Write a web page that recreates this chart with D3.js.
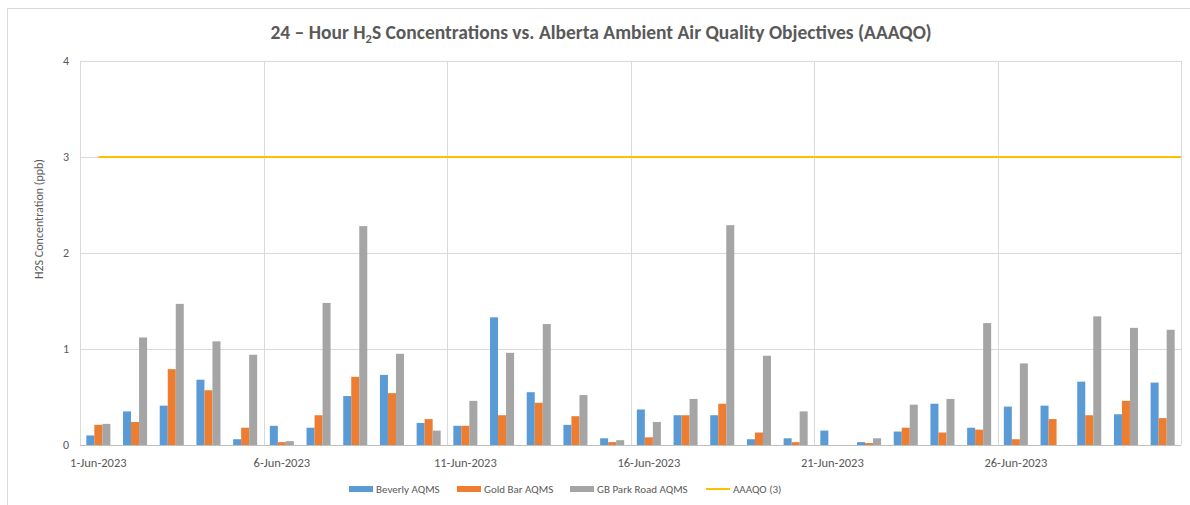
<!DOCTYPE html>
<meta charset="utf-8">
<style>
    * { margin: 0px; }
    body { background: #fff; }
    text {
        font-family: Carlito, "Open Sans", sans-serif;
        fill: #595959;
    }
    .grid line { stroke: #d9d9d9; stroke-width: 1px; }
</style>
<svg width="1190" height="505"></svg>
<script src="https://d3js.org/d3.v7.min.js"></script>
<script>
    // data (ppb)
    var days = d3.range(1, 31).map(function(d) { return d + "-Jun-2023"; });
    var seriesNames = ["Beverly AQMS", "Gold Bar AQMS", "GB Park Road AQMS"];
    var beverly = [0.10, 0.35, 0.41, 0.68, 0.06, 0.20, 0.18, 0.51, 0.73, 0.23,
                   0.20, 1.33, 0.55, 0.21, 0.07, 0.37, 0.31, 0.31, 0.06, 0.07,
                   0.15, 0.03, 0.14, 0.43, 0.18, 0.40, 0.41, 0.66, 0.32, 0.65];
    var goldBar = [0.21, 0.24, 0.79, 0.57, 0.18, 0.03, 0.31, 0.71, 0.54, 0.27,
                   0.20, 0.31, 0.44, 0.30, 0.03, 0.08, 0.31, 0.43, 0.13, 0.03,
                   null, 0.02, 0.18, 0.13, 0.16, 0.06, 0.27, 0.31, 0.46, 0.28];
    var gbPark  = [0.22, 1.12, 1.47, 1.08, 0.94, 0.04, 1.48, 2.28, 0.95, 0.15,
                   0.46, 0.96, 1.26, 0.52, 0.05, 0.24, 0.48, 2.29, 0.93, 0.35,
                   null, 0.07, 0.42, 0.48, 1.27, 0.85, null, 1.34, 1.22, 1.20];
    var objective = 3;
    var yTicks = [0, 1, 2, 3, 4];
    var labelDays = [0, 5, 10, 15, 20, 25];
    var colors = ["#5b9bd5", "#ed7d31", "#a5a5a5"];
    var lineColor = "#ffc000";

    var svg = d3.select("svg");
    var margin = {left: 80, right: 9, top: 61, bottom: 60};
    var width = 1190, height = 505;

    // chart frame
    svg.append("rect")
        .attr("x", 7.5).attr("y", 8.5)
        .attr("width", 1200).attr("height", 520)
        .attr("fill", "none").attr("stroke", "#d9d9d9");

    var x = d3.scaleBand()
        .domain(d3.range(days.length))
        .range([margin.left, width - margin.right]);
    var xs = d3.scaleBand()
        .domain(d3.range(3))
        .range([0, x.bandwidth()])
        .paddingOuter(0.79);
    var y = d3.scaleLinear()
        .domain([0, 4])
        .range([height - margin.bottom, margin.top]);

    // horizontal gridlines
    svg.append("g").attr("class", "grid")
        .selectAll("line")
        .data(yTicks.slice(1))
        .enter().append("line")
        .attr("x1", margin.left).attr("x2", width - margin.right)
        .attr("y1", function(d) { return Math.round(y(d)) + 0.5; })
        .attr("y2", function(d) { return Math.round(y(d)) + 0.5; });

    // vertical gridlines at 5-day boundaries + right edge
    var vlines = labelDays.slice(1).map(function(i) { return x(i); }).concat([x.range()[1]]);
    svg.append("g").attr("class", "grid")
        .selectAll("line")
        .data(vlines)
        .enter().append("line")
        .attr("x1", function(d) { return Math.round(d) + 0.5; })
        .attr("x2", function(d) { return Math.round(d) + 0.5; })
        .attr("y1", margin.top).attr("y2", y(0));

    // bars
    var allSeries = [beverly, goldBar, gbPark];
    allSeries.forEach(function(vals, s) {
        svg.append("g")
            .selectAll("rect")
            .data(vals.map(function(v, i) { return {i: i, v: v}; }).filter(function(d) { return d.v != null; }))
            .enter().append("rect")
            .attr("x", function(d) { return x(d.i) + xs(s); })
            .attr("width", xs.bandwidth())
            .attr("y", function(d) { return y(d.v); })
            .attr("height", function(d) { return y(0) - y(d.v); })
            .attr("fill", colors[s]);
    });

    // objective line, from first day's centre to the end of the axis
    var linePts = days.map(function(d, i) { return [x(i) + x.bandwidth() / 2, objective]; });
    linePts.push([x.range()[1], objective]);
    svg.append("path")
        .datum(linePts)
        .attr("fill", "none")
        .attr("stroke", lineColor)
        .attr("stroke-width", 2.2)
        .attr("d", d3.line().x(function(d) { return d[0]; }).y(function(d) { return y(d[1]); }));

    // axes lines
    svg.append("line")
        .attr("x1", margin.left + 0.5).attr("x2", margin.left + 0.5)
        .attr("y1", margin.top).attr("y2", y(0))
        .attr("stroke", "#d9d9d9");
    svg.append("line")
        .attr("x1", margin.left).attr("x2", width - margin.right)
        .attr("y1", y(0) + 0.5).attr("y2", y(0) + 0.5)
        .attr("stroke", "#bfbfbf");

    // y tick labels
    svg.append("g")
        .selectAll("text")
        .data(yTicks)
        .enter().append("text")
        .attr("x", 69)
        .attr("y", function(d) { return y(d) + 4; })
        .attr("text-anchor", "end")
        .style("font-size", "12px")
        .text(function(d) { return d; });

    // x tick labels
    svg.append("g")
        .selectAll("text")
        .data(labelDays)
        .enter().append("text")
        .attr("x", function(i) { return x(i) + x.bandwidth() / 2; })
        .attr("y", 467)
        .attr("text-anchor", "middle")
        .style("font-size", "12.5px")
        .text(function(i) { return days[i]; });

    // y axis title
    svg.append("text")
        .attr("transform", "translate(43,219) rotate(-90)")
        .attr("text-anchor", "middle")
        .style("font-size", "12px")
        .text("H2S Concentration (ppb)");

    // chart title
    var title = svg.append("text")
        .attr("x", 601).attr("y", 39)
        .attr("text-anchor", "middle")
        .style("font-size", "19.5px")
        .style("font-weight", "bold");
    title.append("tspan").text("24 – Hour H");
    title.append("tspan").attr("dy", 4).style("font-size", "12.5px").text("2");
    title.append("tspan").attr("dy", -4).text("S Concentrations vs. Alberta Ambient Air Quality Objectives (AAAQO)");

    // legend
    var legendItems = [
        {name: seriesNames[0], color: colors[0], type: "rect", x: 349},
        {name: seriesNames[1], color: colors[1], type: "rect", x: 457},
        {name: seriesNames[2], color: colors[2], type: "rect", x: 570},
        {name: "AAAQO (3)", color: lineColor, type: "line", x: 706}
    ];
    var lg = svg.append("g").selectAll("g")
        .data(legendItems)
        .enter().append("g")
        .attr("transform", function(d) { return "translate(" + d.x + ",489)"; });
    lg.filter(function(d) { return d.type == "rect"; })
        .append("rect")
        .attr("x", 0).attr("y", -3).attr("width", 24).attr("height", 6)
        .attr("fill", function(d) { return d.color; });
    lg.filter(function(d) { return d.type == "line"; })
        .append("line")
        .attr("x1", 0).attr("x2", 24).attr("y1", 0).attr("y2", 0)
        .attr("stroke", function(d) { return d.color; })
        .attr("stroke-width", 2);
    lg.append("text")
        .attr("x", 27).attr("y", 4)
        .style("font-size", "11px")
        .text(function(d) { return d.name; });
</script>
